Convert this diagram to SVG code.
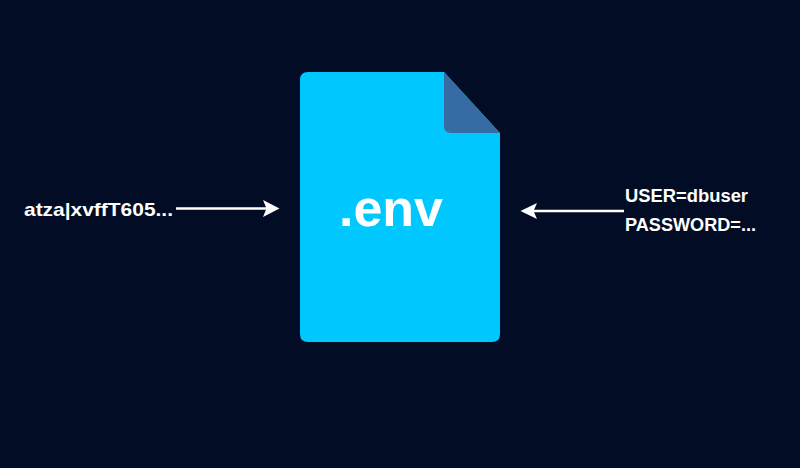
<svg xmlns="http://www.w3.org/2000/svg" width="800" height="468" viewBox="0 0 800 468">
<style>
text{font-family:"Liberation Sans",Arial,sans-serif;font-weight:700;fill:#fff}
.lbl{font-size:19px}
.ln{stroke:#fff;stroke-width:2.6;fill:none}
.hd{fill:#fff}
</style>
<rect width="800" height="468" fill="#020d25"/>
<g id="env-file">
<path d="M308 72H444L500 133V334Q500 342 492 342H308Q300 342 300 334V80Q300 72 308 72Z" fill="#00c8ff"/>
<path d="M444 72L500 133H451Q444 133 444 126Z" fill="#366ca3"/>
<text x="391" y="226" font-size="52" text-anchor="middle">.env</text>
</g>
<g id="token"><text class="lbl" x="24" y="216" textLength="149" lengthAdjust="spacingAndGlyphs">atza|xvffT605...</text></g>
<g id="credentials">
<text class="lbl" x="625" y="202" textLength="123" lengthAdjust="spacingAndGlyphs">USER=dbuser</text>
<text class="lbl" x="625" y="231" textLength="131" lengthAdjust="spacingAndGlyphs">PASSWORD=...</text>
</g>
<g id="connectors">
<path class="ln" d="M176 208.500H268"/><path class="hd" d="M279.500 208.500L263 200L266.500 208.500L263 217Z"/>
<path class="ln" d="M624 211H532"/><path class="hd" d="M520.500 211L537 203L533.500 211L537 219Z"/>
</g>
</svg>
